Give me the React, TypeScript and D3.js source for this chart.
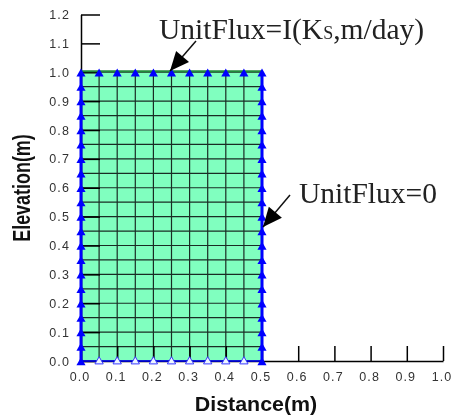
import React, { useRef, useEffect } from 'react'
import * as d3 from 'd3'

const xTicks = [0, 0.1, 0.2, 0.3, 0.4, 0.5, 0.6, 0.7, 0.8, 0.9, 1.0]
const yTicks = [0, 0.1, 0.2, 0.3, 0.4, 0.5, 0.6, 0.7, 0.8, 0.9, 1.0, 1.1, 1.2]
const xNodes = [0, 0.05, 0.1, 0.15, 0.2, 0.25, 0.3, 0.35, 0.4, 0.45, 0.5]
const yNodes = [0, 0.05, 0.1, 0.15, 0.2, 0.25, 0.3, 0.35, 0.4, 0.45, 0.5, 0.55, 0.6, 0.65, 0.7, 0.75, 0.8, 0.85, 0.9, 0.95, 1.0]

const App = () => {
    const reg = useRef<SVGSVGElement>(null)
    useEffect(() => {
        const svg = d3.select(reg.current)
        svg.selectAll('*').remove()

        const xScale = d3.scaleLinear().domain([0, 1]).range([81, 443])
        const yScale = d3.scaleLinear().domain([0, 1.2]).range([361, 14.5])
        const xMax = 0.5
        const yMax = 1.0

        // soil region
        svg.append('rect')
            .attr('x', xScale(0))
            .attr('y', yScale(yMax))
            .attr('width', xScale(xMax) - xScale(0))
            .attr('height', yScale(0) - yScale(yMax))
            .attr('fill', '#80ffbf')

        // mesh
        svg.append('g').selectAll('line')
            .data(xNodes)
            .join('line')
            .attr('x1', d => xScale(d))
            .attr('x2', d => xScale(d))
            .attr('y1', yScale(0))
            .attr('y2', yScale(yMax))
            .attr('stroke', '#1a2c24')
            .attr('stroke-width', 1.2)
        svg.append('g').selectAll('line')
            .data(yNodes)
            .join('line')
            .attr('x1', xScale(0))
            .attr('x2', xScale(xMax))
            .attr('y1', d => yScale(d))
            .attr('y2', d => yScale(d))
            .attr('stroke', '#1a2c24')
            .attr('stroke-width', 1.2)

        // axes
        const xAxis = d3.axisBottom(xScale)
            .tickValues(xTicks)
            .tickFormat(d3.format('.1f'))
            .tickSizeInner(-15)
            .tickSizeOuter(0)
        const yAxis = d3.axisLeft(yScale)
            .tickValues(yTicks)
            .tickFormat(d3.format('.1f'))
            .tickSizeInner(-19)
            .tickSizeOuter(0)
            .tickPadding(11)

        const gx = svg.append('g')
            .attr('transform', `translate(0, ${yScale(0)})`)
            .call(xAxis)
        gx.selectAll('text')
            .attr('y', 11.5)
            .attr('dx', -1.5)
            .attr('dy', '0.71em')
        const gy = svg.append('g')
            .attr('transform', `translate(${xScale(0)}, 0)`)
            .call(yAxis)
        for (const g of [gx, gy]) {
            g.selectAll('.domain').attr('stroke', '#000').attr('stroke-width', 1.5)
            g.selectAll('line').attr('stroke', '#000').attr('stroke-width', 1.5)
            g.selectAll('text')
                .attr('fill', '#333')
                .style('font-family', 'Liberation Sans')
                .style('font-size', '12.5px')
                .style('letter-spacing', '1.1px')
        }

        // boundary lines
        svg.append('line')
            .attr('x1', xScale(0))
            .attr('x2', xScale(xMax))
            .attr('y1', yScale(yMax) - 1)
            .attr('y2', yScale(yMax) - 1)
            .attr('stroke', '#1f8a3a')
            .attr('stroke-width', 2)
        const blue = '#0000ff'
        const edge = d3.line()
        svg.append('path')
            .attr('d', edge([
                [xScale(0), yScale(yMax)],
                [xScale(0), yScale(0)],
            ]))
            .attr('stroke', blue)
            .attr('stroke-width', 3)
        svg.append('path')
            .attr('d', edge([
                [xScale(xMax), yScale(yMax)],
                [xScale(xMax), yScale(0)],
            ]))
            .attr('stroke', blue)
            .attr('stroke-width', 3)
        svg.append('path')
            .attr('d', edge([
                [xScale(0), yScale(0)],
                [xScale(xMax), yScale(0)],
            ]))
            .attr('stroke', blue)
            .attr('stroke-width', 1.5)

        // boundary condition markers
        const tri = d3.symbol(d3.symbolTriangle, 36)
        const sideNodes = [0, xMax].flatMap(x => yNodes.map(y => [x, y]))
        svg.append('g').selectAll('path')
            .data(xNodes.slice(1, -1))
            .join('path')
            .attr('d', d3.symbol(d3.symbolTriangle, 30)())
            .attr('transform', d => `translate(${xScale(d)}, ${yScale(0) + 0.5})`)
            .attr('fill', '#eef6ff')
            .attr('stroke', '#3a3aff')
            .attr('stroke-width', 1)
        svg.append('g').selectAll('path')
            .data(sideNodes)
            .join('path')
            .attr('d', tri())
            .attr('transform', d => `translate(${xScale(d[0])}, ${yScale(d[1]) + 1.5})`)
            .attr('fill', blue)
        svg.append('g').selectAll('path')
            .data(xNodes.slice(1, -1))
            .join('path')
            .attr('d', tri())
            .attr('transform', d => `translate(${xScale(d)}, ${yScale(yMax) + 1.5})`)
            .attr('fill', blue)

        // axis titles
        const sans = 'Liberation Sans'
        svg.append('text')
            .attr('transform', 'translate(256, 411) scale(1.07, 1)')
            .attr('text-anchor', 'middle')
            .attr('fill', '#111')
            .style('font-family', sans)
            .style('font-size', '20px')
            .style('font-weight', 'bold')
            .text('Distance(m)')
        svg.append('text')
            .attr('transform', 'translate(30, 188) rotate(-90) scale(0.78, 1)')
            .attr('text-anchor', 'middle')
            .attr('fill', '#111')
            .style('font-family', sans)
            .style('font-size', '23px')
            .style('font-weight', 'bold')
            .text('Elevation(m)')

        // annotations
        const top = svg.append('text')
            .attr('x', 159)
            .attr('y', 39)
            .attr('fill', '#222')
            .style('font-family', 'Liberation Serif')
            .style('font-size', '29.5px')
        top.append('tspan').text('UnitFlux=I(K')
        top.append('tspan').style('font-size', '18px').text('S')
        top.append('tspan').text(',m/day)')
        svg.append('text')
            .attr('x', 299)
            .attr('y', 203)
            .attr('fill', '#222')
            .style('font-family', 'Liberation Serif')
            .style('font-size', '29.5px')
            .text('UnitFlux=0')

        const arrows = [
            { from: [196, 41], to: [170, 71] },
            { from: [290, 195], to: [263, 227] },
        ]
        for (const a of arrows) {
            const ang = Math.atan2(a.to[1] - a.from[1], a.to[0] - a.from[0])
            const len = 21
            const spread = 0.42
            const head = [
                a.to,
                [a.to[0] - len * Math.cos(ang - spread), a.to[1] - len * Math.sin(ang - spread)],
                [a.to[0] - len * Math.cos(ang + spread), a.to[1] - len * Math.sin(ang + spread)],
            ] as [number, number][]
            svg.append('line')
                .attr('x1', a.from[0])
                .attr('y1', a.from[1])
                .attr('x2', a.to[0])
                .attr('y2', a.to[1])
                .attr('stroke', '#111')
                .attr('stroke-width', 1.5)
            svg.append('path')
                .attr('d', d3.line()(head) + 'Z')
                .attr('fill', '#000')
        }
    }, [])
    return (
        <svg
            ref={reg}
            width={451}
            height={417}
            style={{ position: 'absolute', left: 0, top: 0, background: 'white', filter: 'blur(0.3px)' }}
        />
    )
}

export default App
